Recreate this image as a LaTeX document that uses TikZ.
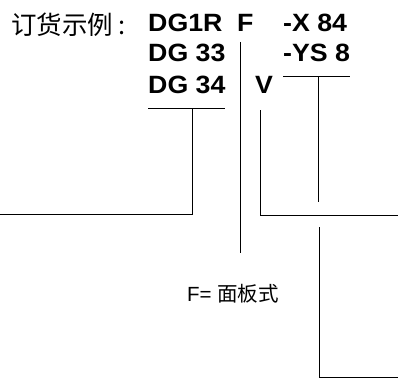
\documentclass[tikz,border=0pt]{standalone}
\usepackage{fontspec}
\setmainfont{Liberation Sans}
\newfontfamily\cjk{Noto Sans CJK SC}
\newfontfamily\codefont{Liberation Sans}[FakeStretch=1.07]
\begin{document}
\begin{tikzpicture}[x=1pt,y=-1pt,
  code/.style={anchor=base west,inner sep=0pt,font=\codefont\fontsize{25}{26}\selectfont\bfseries},
  lbl/.style={anchor=base west,inner sep=0pt},
  ln/.style={line width=1pt}]
\useasboundingbox (0,0) rectangle (398,385);
% texts
\node[lbl,font=\fontsize{25.5}{27}\selectfont] (title) at (11,35) {\cjk 订货示例\kern5pt:};
\node[code] (dg1r) at (148,32) {DG1R};
\node[code] (f) at (237,32) {F};
\node[code] (x84) at (283,32) {-X 84};
\node[code] (dg33) at (148,62) {DG 33};
\node[code] (ys8) at (283,62) {-YS 8};
\node[code] (dg34) at (148,93) {DG 34};
\node[code] (v) at (255,93) {V};
\node[lbl,font=\fontsize{20.5}{22}\selectfont] (fnote) at (187,301) {F= {\cjk 面板式}};
% coordinates
\coordinate (dgL) at (148,108);
\coordinate (dgR) at (225,108);
\coordinate (dgM) at (192,108);
\coordinate (dgC) at (192,214);
\coordinate (dgE) at (0,214);
\coordinate (fT) at (240,42);
\coordinate (fB) at (240,253);
\coordinate (vT) at (260,110);
\coordinate (vC) at (260,215);
\coordinate (vE) at (398,215);
\coordinate (ysL) at (283,77);
\coordinate (ysR) at (350,77);
\coordinate (ysM) at (318,77);
\coordinate (ysB) at (318,202);
\coordinate (lT) at (319,227);
\coordinate (lC) at (319,377);
\coordinate (lE) at (398,377);
% lines
\draw[ln] (dgL) -- (dgR);
\draw[ln] (dgM) -- (dgC) -- (dgE);
\draw[ln] (fT) -- (fB);
\draw[ln] (vT) -- (vC) -- (vE);
\draw[ln] (ysL) -- (ysR);
\draw[ln] (ysM) -- (ysB);
\draw[ln] (lT) -- (lC) -- (lE);
\end{tikzpicture}
\end{document}
